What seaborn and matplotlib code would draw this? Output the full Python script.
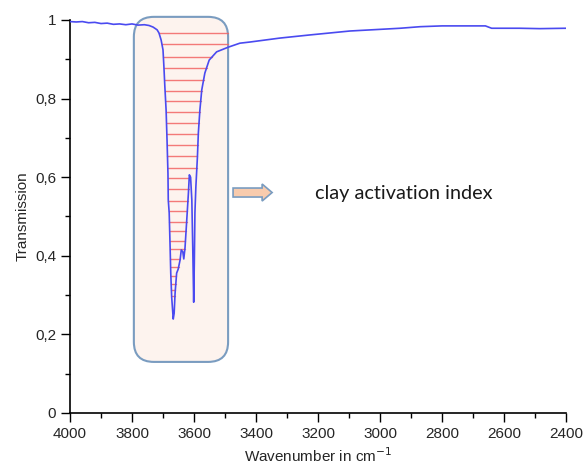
import numpy as np
import pandas as pd
import matplotlib
matplotlib.use('Agg')
import matplotlib.pyplot as plt
import seaborn as sns
from matplotlib.patches import FancyBboxPatch, FancyArrow
from matplotlib.ticker import MultipleLocator, FuncFormatter

# spectrum
wavenumber = [4000, 3980, 3960, 3940, 3920, 3900, 3880, 3860, 3840, 3820, 3800,
              3780, 3760, 3745, 3732, 3719, 3713, 3706, 3700, 3697, 3694, 3690,
              3687, 3684, 3683, 3680, 3677, 3675, 3672, 3667, 3664, 3661, 3656,
              3651, 3645, 3641, 3636, 3633, 3629, 3624, 3618, 3615, 3611, 3607,
              3604, 3601, 3599, 3597, 3594, 3589, 3586, 3581, 3575, 3565, 3551,
              3527, 3489, 3452, 3419, 3323, 3226, 3097, 2935, 2870, 2800, 2660,
              2640, 2550, 2484, 2400]
transmission = [0.996, 0.995, 0.996, 0.993, 0.994, 0.991, 0.992, 0.989, 0.990, 0.988, 0.990,
                0.987, 0.988, 0.986, 0.982, 0.975, 0.967, 0.949, 0.924, 0.880, 0.830, 0.771,
                0.695, 0.610, 0.542, 0.509, 0.420, 0.356, 0.295, 0.239, 0.254, 0.305, 0.356,
                0.366, 0.389, 0.415, 0.410, 0.392, 0.420, 0.483, 0.560, 0.606, 0.600, 0.542,
                0.420, 0.282, 0.380, 0.510, 0.575, 0.651, 0.712, 0.771, 0.822, 0.865, 0.898,
                0.919, 0.931, 0.941, 0.944, 0.954, 0.962, 0.972, 0.979, 0.983, 0.985, 0.985,
                0.979, 0.979, 0.978, 0.979]

# hatch levels inside the band
hatch_levels = [0.967, 0.939, 0.906, 0.878, 0.847, 0.820, 0.794, 0.766, 0.738,
                0.710, 0.682, 0.654, 0.623, 0.598, 0.570, 0.540, 0.514, 0.486,
                0.463, 0.438, 0.417, 0.392, 0.371, 0.349, 0.328, 0.313, 0.298]

box_wn = (3794, 3490)
box_t = (0.13, 1.008)
label_text = 'clay activation index'

sns.set_style('ticks')
plt.rcParams['font.family'] = ['Liberation Sans', 'DejaVu Sans']

fig = plt.figure(figsize=(5.85, 4.72), dpi=100)
ax = fig.add_axes([70 / 585, 59 / 472, 496 / 585, 393 / 472])

ax.set_xlim(4000, 2400)
ax.set_ylim(0, 1)

# px -> data scale factors for round corners / arrow
x_per_px = 1600 / 496
y_per_px = 1 / 393

box = FancyBboxPatch((box_wn[1], box_t[0]), box_wn[0] - box_wn[1], box_t[1] - box_t[0],
                     boxstyle=f'round,pad=0,rounding_size={20 * x_per_px}',
                     mutation_aspect=y_per_px / x_per_px,
                     facecolor='#FDF3EE', edgecolor='#7A9CC0', linewidth=1.5,
                     clip_on=False, zorder=1)
ax.add_patch(box)

# red hatch lines between the curve branches
wn = np.array(wavenumber)
tr = np.array(transmission)
fine_wn = np.linspace(3790, 3480, 3000)
fine_t = np.interp(fine_wn[::-1], wn[::-1], tr[::-1])[::-1]
for lvl in hatch_levels:
    below = fine_t < lvl
    if not below.any():
        continue
    i0 = np.argmax(below)
    rest = below[i0:]
    i1 = i0 + (np.argmin(rest) if (~rest).any() else len(rest) - 1)
    x0 = fine_wn[i0]
    x1 = max(fine_wn[i1], box_wn[1])
    ax.plot([x0, x1], [lvl, lvl], color='#F26464', lw=1.0, alpha=0.85, zorder=2)

df = pd.DataFrame({'wn': wavenumber, 'T': transmission})
sns.lineplot(data=df, x='wn', y='T', sort=False, estimator=None,
             color='#4A4AF0', lw=1.2, ax=ax, zorder=3)

arrow = FancyArrow(3474, 0.561, -126, 0, width=9 * y_per_px,
                   head_width=17 * y_per_px, head_length=10 * x_per_px,
                   length_includes_head=True, facecolor='#F8CBAD',
                   edgecolor='#7A9CC0', linewidth=1.2, clip_on=False, zorder=4)
ax.add_patch(arrow)
ax.text(3210, 0.558, label_text, fontsize=14.3, family=['Lato', 'DejaVu Sans'],
        ha='left', va='center', color='#1a1a1a')

ax.xaxis.set_major_locator(MultipleLocator(200))
ax.xaxis.set_minor_locator(MultipleLocator(100))
ax.yaxis.set_major_locator(MultipleLocator(0.2))
ax.yaxis.set_minor_locator(MultipleLocator(0.1))
ax.yaxis.set_major_formatter(FuncFormatter(
    lambda v, p: '0' if abs(v) < 1e-9 else ('1' if abs(v - 1) < 1e-9 else f'{v:.1f}'.replace('.', ','))))
ax.tick_params(which='major', direction='out', length=6.5, width=1, labelsize=11, color='black')
ax.tick_params(which='minor', direction='out', length=3.5, width=1, color='black')
for s in ['left', 'bottom']:
    ax.spines[s].set_color('black')
    ax.spines[s].set_linewidth(1.2)
sns.despine(ax=ax)

ax.set_xlabel('Wavenumber in cm$^{-1}$', fontsize=11)
ax.set_ylabel('Transmission', fontsize=11)

fig.savefig('out.png', dpi=100)
